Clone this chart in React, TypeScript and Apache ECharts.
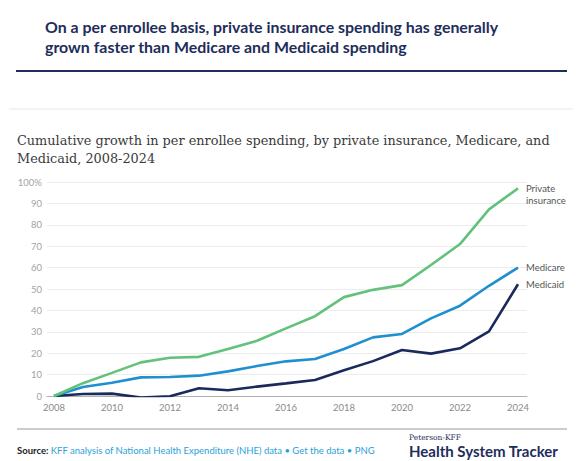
import React, { useEffect, useRef } from "react";
import * as echarts from "echarts";

const years = [2008, 2009, 2010, 2011, 2012, 2013, 2014, 2015, 2016, 2017, 2018, 2019, 2020, 2021, 2022, 2023, 2024];
const privateInsurance = [0, 6, 10.8, 15.7, 17.9, 18.3, 22, 25.8, 31.6, 37.3, 46.2, 49.6, 51.8, 61.2, 71, 87.2, 97];
const medicare = [0, 4.2, 6.2, 8.7, 8.9, 9.5, 11.5, 14, 16.2, 17.3, 22, 27.4, 29, 36.3, 42.2, 51.5, 60];
const medicaid = [0, 0.9, 1.1, -0.7, -0.1, 3.6, 2.7, 4.4, 5.9, 7.5, 12, 16.3, 21.5, 19.8, 22.3, 30.2, 52.2];
const xTicks = [2008, 2010, 2012, 2014, 2016, 2018, 2020, 2022, 2024];
const seriesNames = ["Private\ninsurance", "Medicare", "Medicaid"];

const title1 = "On a per enrollee basis, private insurance spending has generally";
const title2 = "grown faster than Medicare and Medicaid spending";
const subtitle1 = "Cumulative growth in per enrollee spending, by private insurance, Medicare, and";
const subtitle2 = "Medicaid, 2008-2024";

export default function App() {
  const ref = useRef<HTMLDivElement>(null);
  useEffect(() => {
    document.body.style.margin = "0";
    const chart = echarts.init(ref.current!, null, { renderer: "svg" });
    const mk = (arr: number[]) => years.map((y, i) => [y, arr[i]]);
    const colors = ["#62c27c", "#1f8fd0", "#1b2a5c"];
    const datas = [privateInsurance, medicare, medicaid];
    chart.setOption({
      animation: false,
      grid: { left: 47, right: 51, top: 182, bottom: 65 },
      xAxis: {
        type: "value",
        min: 2007.76,
        max: 2024.31,
        splitLine: { show: false },
        axisLine: { show: true, onZero: false, lineStyle: { color: "#b0b0b0", width: 1 } },
        axisTick: { show: false },
        axisLabel: {
          customValues: xTicks,
          color: "#8a8a8a",
          fontSize: 9.5,
          fontFamily: "Lato",
          margin: 6,
          formatter: (v: number) => String(v),
        },
      },
      yAxis: {
        type: "value",
        min: 0,
        max: 100,
        interval: 10,
        axisLine: { show: false },
        axisTick: { show: false },
        splitLine: { lineStyle: { color: "#ececec", width: 1 } },
        axisLabel: {
          color: "#a3a3a3",
          fontSize: 9.5,
          fontFamily: "Lato",
          margin: 5,
          formatter: (v: number) => (v === 100 ? "100%" : String(v)),
        },
      },
      series: datas.map((d, i) => ({
        type: "line",
        name: seriesNames[i],
        data: mk(d),
        symbol: "none",
        lineStyle: { color: colors[i], width: 2.6 },
        z: 3 - i,
        endLabel: {
          show: true,
          formatter: seriesNames[i],
          color: "#555",
          fontSize: 9.5,
          fontFamily: "Lato",
          lineHeight: 12,
          distance: 8,
          offset: i === 0 ? [0, 6] : [0, 0],
        },
      })),
      graphic: [
        {
          type: "text",
          left: 45,
          top: 16,
          style: {
            text: title1 + "\n" + title2,
            fill: "#1e2d5a",
            font: "bold 15.9px Lato",
            lineHeight: 20,
          },
        },
        { type: "line", shape: { x1: 16, y1: 71, x2: 567, y2: 71 }, style: { stroke: "#1e2d5a", lineWidth: 1.8 } },
        { type: "line", shape: { x1: 9, y1: 109, x2: 573, y2: 109 }, style: { stroke: "#e6e6e6", lineWidth: 1 } },
        {
          type: "text",
          left: 17,
          top: 131,
          style: {
            text: subtitle1 + "\n" + subtitle2,
            fill: "#3a3a3a",
            font: "12.85px 'DejaVu Serif'",
            lineHeight: 18.5,
          },
        },
        { type: "line", shape: { x1: 17, y1: 429, x2: 567, y2: 429 }, style: { stroke: "#9a9a9a", lineWidth: 1 } },
        {
          type: "text",
          left: 17,
          top: 445,
          style: {
            text: "{a|Source: }{b|KFF analysis of National Health Expenditure (NHE) data • Get the data • PNG}",
            rich: {
              a: { fill: "#222", font: "bold 9.5px Lato" },
              b: { fill: "#2a9fd8", font: "9.5px Lato" },
            },
          },
        },
        {
          type: "text",
          left: 409,
          top: 433,
          style: { text: "Peterson-KFF", fill: "#1e2d5a", font: "7.5px 'DejaVu Serif'", lineHeight: 9 },
        },
        {
          type: "text",
          left: 409,
          top: 443,
          style: { text: "Health System Tracker", fill: "#1e2d5a", font: "bold 15px Lato", lineHeight: 16 },
        },
      ],
    });
    return () => chart.dispose();
  }, []);
  return <div ref={ref} style={{ width: 578, height: 461, background: "#fff" }} />;
}
